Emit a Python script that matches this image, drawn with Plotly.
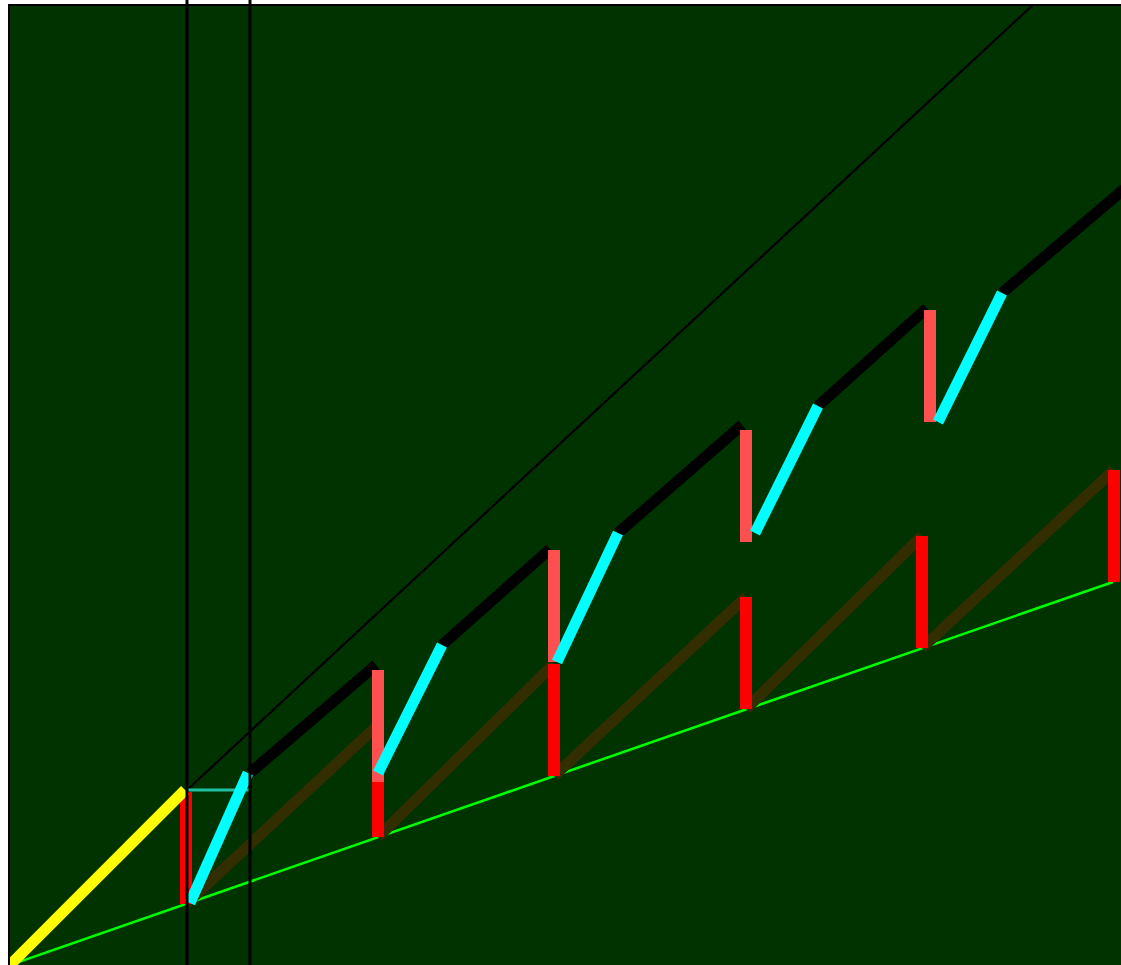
import plotly.graph_objects as go

# Reference ramp and first run-up
yellow_x = [0, 175]
yellow_y = [0, 175]

green_x = [0, 1103]
green_y = [0, 383]

# Thin diagonal from the end of the first ramp
thin_x = [177, 1025]
thin_y = [175, 962]

# Short horizontal connector
teal_x = [176, 239]
teal_y = [175, 175]

# Vertical markers
marker_x = [177, 240]

# Sawtooth (slow) segments: start/end pairs
brown_x0 = [176, 368, 544, 736, 912]
brown_y0 = [61, 128, 189, 256, 317]
brown_x1 = [368, 544, 736, 912, 1104]
brown_y1 = [240, 301, 368, 429, 495]

# Reset drops of the sawtooth
red_x = [176, 368, 544, 736, 912, 1104]
red_bottom = [61, 128, 189, 256, 317, 383]
red_top = [173, 240, 301, 368, 429, 495]

# Fast climb segments
cyan_x0 = [180, 368, 547, 745, 928]
cyan_y0 = [62, 192, 303, 432, 543]
cyan_x1 = [238, 432, 608, 808, 992]
cyan_y1 = [192, 320, 432, 559, 672]

# Slow climb segments
black_x0 = [240, 432, 608, 808, 992]
black_y0 = [192, 320, 432, 559, 672]
black_x1 = [366, 540, 732, 917, 1120]
black_y1 = [300, 416, 540, 657, 781]

# Drops after each slow climb
salmon_x = [368, 544, 736, 920]
salmon_bottom = [183, 303, 423, 543]
salmon_top = [295, 415, 535, 655]


def segments(x0, y0, x1, y1):
    xs, ys = [], []
    for a, b, c, d in zip(x0, y0, x1, y1):
        xs += [a, c, None]
        ys += [b, d, None]
    return xs, ys


def bars(x, lo, hi):
    return segments(x, lo, x, hi)


fig = go.Figure()


def add(xs, ys, color, width):
    fig.add_trace(go.Scatter(x=xs, y=ys, mode="lines",
                             line=dict(color=color, width=width),
                             hoverinfo="skip", showlegend=False))


add(green_x, green_y, "#00ff00", 2.5)
add(*segments(brown_x0, brown_y0, brown_x1, brown_y1), "#332e00", 11)
add(*bars(red_x, red_bottom, red_top), "#ff0000", 12)
add(thin_x, thin_y, "#000000", 2.2)
add(yellow_x, yellow_y, "#ffff00", 11)
add(teal_x, teal_y, "#20c0a0", 3)
add(*segments(black_x0, black_y0, black_x1, black_y1), "#000000", 11)
add(*bars(salmon_x, salmon_bottom, salmon_top), "#ff5050", 12)
add(*segments(cyan_x0, cyan_y0, cyan_x1, cyan_y1), "#00ffff", 11)

for mx in marker_x:
    fig.add_shape(type="line", xref="x", yref="paper", x0=mx, x1=mx,
                  y0=0, y1=1.01, line=dict(color="#000000", width=3),
                  layer="above")

fig.update_layout(
    width=1121, height=965, autosize=False,
    margin=dict(l=10, r=0, t=6, b=0, pad=0),
    paper_bgcolor="#ffffff", plot_bgcolor="#003300",
    showlegend=False,
    xaxis=dict(range=[0, 1111], showgrid=False, zeroline=False,
               showticklabels=False, ticks="", side="top",
               showline=True, linecolor="#000000", linewidth=2),
    yaxis=dict(range=[0, 959], showgrid=False, zeroline=False,
               showticklabels=False, ticks="",
               showline=True, linecolor="#000000", linewidth=2),
)

fig.write_html("out.html", config={"displayModeBar": False})
